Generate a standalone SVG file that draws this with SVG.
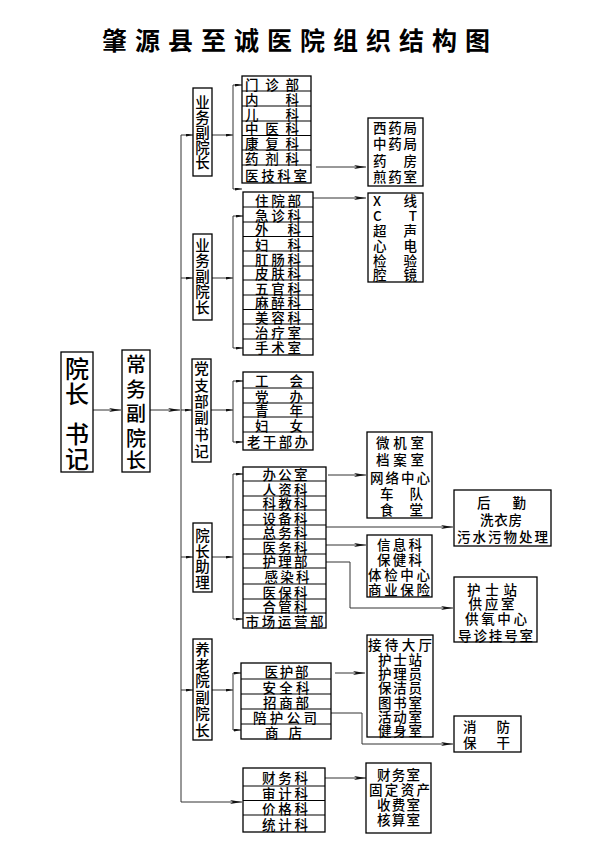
<svg xmlns="http://www.w3.org/2000/svg" width="600" height="849" viewBox="0 0 600 849">
<style>
.b{fill:#fff;stroke:#000;stroke-width:1.3}
.r{stroke:#000;stroke-width:1.2}
text{font-family:"Noto Sans CJK SC","Noto Sans",sans-serif;font-size:13.5px;font-weight:500;fill:#000;dominant-baseline:central;text-anchor:middle}
.v{font-size:14.5px}
.c{stroke:#333;stroke-width:1;fill:none}
.t{font-size:25px;font-weight:bold;text-anchor:start;dominant-baseline:auto}
</style>
<defs>
<marker id="ah" viewBox="0 0 12 4" refX="12" refY="2" markerWidth="12" markerHeight="4" orient="auto" markerUnits="userSpaceOnUse"><path d="M0,0 L12,2 L0,4 L3,2 z" fill="#111"/></marker>
<marker id="as" viewBox="0 0 7 3" refX="7" refY="1.5" markerWidth="7" markerHeight="3" orient="auto" markerUnits="userSpaceOnUse"><path d="M0,0 L7,1.5 L0,3 z" fill="#111"/></marker>
</defs>
<rect width="600" height="849" fill="#fff"/>
<text class="t" x="102" y="50" textLength="388" lengthAdjust="spacing">肇源县至诚医院组织结构图</text>

<g id="connectors">
<path class="c" d="M181,135 V802"/>
<path class="c" d="M181,135 H193" marker-end="url(#as)"/>
<path class="c" d="M181,278 H193" marker-end="url(#as)"/>
<path class="c" d="M181,410 H192" marker-end="url(#as)"/>
<path class="c" d="M181,557 H193" marker-end="url(#as)"/>
<path class="c" d="M181,690 H193" marker-end="url(#as)"/>
<path class="c" d="M181,802 H242" marker-end="url(#ah)"/>
<path class="c" d="M93,410 H121" marker-end="url(#ah)"/>
<path class="c" d="M150,410 H180" marker-end="url(#ah)"/>
<path class="c" d="M212,135 H233" marker-end="url(#as)"/>
<path class="c" d="M212,278 H233" marker-end="url(#as)"/>
<path class="c" d="M211,410 H233" marker-end="url(#as)"/>
<path class="c" d="M212,557 H233" marker-end="url(#as)"/>
<path class="c" d="M212,690 H233" marker-end="url(#as)"/>
<path class="c" d="M233,85 V189"/>
<path class="c" d="M233,85 H242" marker-end="url(#as)"/>
<path class="c" d="M233,189 H242" marker-end="url(#as)"/>
<path class="c" d="M233,216 V348"/>
<path class="c" d="M233,216 H243" marker-end="url(#as)"/>
<path class="c" d="M233,348 H243" marker-end="url(#as)"/>
<path class="c" d="M233,381 V442"/>
<path class="c" d="M233,381 H243" marker-end="url(#as)"/>
<path class="c" d="M233,442 H243" marker-end="url(#as)"/>
<path class="c" d="M233,474 V619"/>
<path class="c" d="M233,474 H243" marker-end="url(#as)"/>
<path class="c" d="M233,619 H243" marker-end="url(#as)"/>
<path class="c" d="M233,673 V730"/>
<path class="c" d="M233,673 H241" marker-end="url(#as)"/>
<path class="c" d="M233,730 H241" marker-end="url(#as)"/>
<path class="c" d="M316,167 H366" marker-end="url(#ah)"/>
<path class="c" d="M312,198 H366" marker-end="url(#ah)"/>
<path class="c" d="M328,475 H366" marker-end="url(#ah)"/>
<path class="c" d="M326,527 H453" marker-end="url(#ah)"/>
<path class="c" d="M326,545 H366" marker-end="url(#ah)"/>
<path class="c" d="M326,562 H350 V608 H453" marker-end="url(#ah)"/>
<path class="c" d="M335,673 H365" marker-end="url(#ah)" stroke="#888"/>
<path class="c" d="M331,713 H362 V744 H453" marker-end="url(#ah)"/>
<path class="c" d="M325,778 H366" marker-end="url(#ah)"/>
</g>

<g id="n-yuanzhang">
<rect class="b" x="61" y="352" width="32" height="120"/>
<text style="font-size:24px"><tspan x="77" y="367">院</tspan><tspan x="77" y="392">长</tspan><tspan x="77" y="432">书</tspan><tspan x="77" y="457">记</tspan></text>
</g>
<g id="n-changwu">
<rect class="b" x="122" y="350" width="28" height="122"/>
<text style="font-size:20px"><tspan x="136" y="363">常</tspan><tspan x="136" y="388">务</tspan><tspan x="136" y="412">副</tspan><tspan x="136" y="437">院</tspan><tspan x="136" y="459">长</tspan></text>
</g>

<g id="n-yewu1">
<rect class="b" x="193" y="88" width="19" height="88"/>
<text class="v"><tspan x="202.5" y="101">业</tspan><tspan x="202.5" y="116">务</tspan><tspan x="202.5" y="131">副</tspan><tspan x="202.5" y="146">院</tspan><tspan x="202.5" y="161">长</tspan></text>
</g>
<g id="n-yewu2">
<rect class="b" x="193" y="234" width="19" height="86"/>
<text class="v"><tspan x="202.5" y="244">业</tspan><tspan x="202.5" y="259">务</tspan><tspan x="202.5" y="274.5">副</tspan><tspan x="202.5" y="290">院</tspan><tspan x="202.5" y="305.5">长</tspan></text>
</g>
<g id="n-dangzhi">
<rect class="b" x="192" y="359" width="19" height="103"/>
<text class="v"><tspan x="201.5" y="367">党</tspan><tspan x="201.5" y="383.5">支</tspan><tspan x="201.5" y="400">部</tspan><tspan x="201.5" y="416">副</tspan><tspan x="201.5" y="433">书</tspan><tspan x="201.5" y="450">记</tspan></text>
</g>
<g id="n-zhuli">
<rect class="b" x="193" y="523" width="19" height="69"/>
<text class="v"><tspan x="202.5" y="533.5">院</tspan><tspan x="202.5" y="549.5">长</tspan><tspan x="202.5" y="565">助</tspan><tspan x="202.5" y="581">理</tspan></text>
</g>
<g id="n-yanglao">
<rect class="b" x="193" y="639" width="19" height="101"/>
<text class="v"><tspan x="202.5" y="648">养</tspan><tspan x="202.5" y="663.5">老</tspan><tspan x="202.5" y="679">院</tspan><tspan x="202.5" y="695.5">副</tspan><tspan x="202.5" y="712">院</tspan><tspan x="202.5" y="729">长</tspan></text>
</g>

<g id="n-list1">
<rect class="b" x="242" y="76" width="69" height="107"/>
<path class="r" d="M242,91H311M242,106H311M242,121H311M242,135.5H311M242,150H311M242,165H311"/>
<text x="272" y="83.5" textLength="54" lengthAdjust="spacing">门诊部</text>
<text x="272" y="98.5" textLength="54" lengthAdjust="spacing">内 科</text>
<text x="272" y="113.5" textLength="54" lengthAdjust="spacing">儿 科</text>
<text x="272" y="128.3" textLength="54" lengthAdjust="spacing">中医科</text>
<text x="272" y="142.8" textLength="54" lengthAdjust="spacing">康复科</text>
<text x="272" y="157.5" textLength="54" lengthAdjust="spacing">药剂科</text>
<text x="276" y="174.5" textLength="62" lengthAdjust="spacing">医技科室</text>
</g>

<g id="n-list2">
<rect class="b" x="243" y="192" width="70" height="163"/>
<path class="r" d="M243,207H313M243,222H313M243,236.5H313M243,251H313M243,266H313M243,280H313M243,295H313M243,309.5H313M243,324H313M243,339H313"/>
<text x="278" y="199.5" textLength="46" lengthAdjust="spacing">住院部</text>
<text x="278" y="214.5" textLength="46" lengthAdjust="spacing">急诊科</text>
<text x="278" y="229.3" textLength="46" lengthAdjust="spacing">外 科</text>
<text x="278" y="243.8" textLength="46" lengthAdjust="spacing">妇 科</text>
<text x="278" y="258.5" textLength="46" lengthAdjust="spacing">肛肠科</text>
<text x="278" y="273" textLength="46" lengthAdjust="spacing">皮肤科</text>
<text x="278" y="287.5" textLength="46" lengthAdjust="spacing">五官科</text>
<text x="278" y="302.3" textLength="46" lengthAdjust="spacing">麻醉科</text>
<text x="278" y="316.8" textLength="46" lengthAdjust="spacing">美容科</text>
<text x="278" y="331.5" textLength="46" lengthAdjust="spacing">治疗室</text>
<text x="278" y="347" textLength="46" lengthAdjust="spacing">手术室</text>
</g>

<g id="n-list3">
<rect class="b" x="243" y="372" width="70" height="78"/>
<path class="r" d="M243,388H313M243,403H313M243,417H313M243,432H313"/>
<text x="279" y="380" textLength="48" lengthAdjust="spacing">工 会</text>
<text x="279" y="395.5" textLength="48" lengthAdjust="spacing">党 办</text>
<text x="279" y="410" textLength="48" lengthAdjust="spacing">青 年</text>
<text x="279" y="424.5" textLength="48" lengthAdjust="spacing">妇 女</text>
<text x="277.5" y="441" textLength="61" lengthAdjust="spacing">老干部办</text>
</g>

<g id="n-list4">
<rect class="b" x="243" y="467" width="83" height="161"/>
<path class="r" d="M243,481H326M243,496H326M243,510H326M243,525H326M243,539H326M243,554H326M243,568H326M243,584H326M243,599H326M243,613H326"/>
<text x="285" y="474" textLength="45" lengthAdjust="spacing">办公室</text>
<text x="285" y="488.5" textLength="45" lengthAdjust="spacing">人资科</text>
<text x="285" y="503" textLength="45" lengthAdjust="spacing">科教科</text>
<text x="285" y="517.5" textLength="45" lengthAdjust="spacing">设备科</text>
<text x="285" y="532" textLength="45" lengthAdjust="spacing">总务科</text>
<text x="285" y="546.5" textLength="45" lengthAdjust="spacing">医务科</text>
<text x="285" y="561" textLength="45" lengthAdjust="spacing">护理部</text>
<text x="287" y="576" textLength="45" lengthAdjust="spacing">感染科</text>
<text x="285" y="591.5" textLength="45" lengthAdjust="spacing">医保科</text>
<text x="285" y="606" textLength="45" lengthAdjust="spacing">合管科</text>
<text x="284.5" y="620.5" textLength="78" lengthAdjust="spacing">市场运营部</text>
</g>

<g id="n-list5">
<rect class="b" x="241" y="663" width="90" height="76"/>
<path class="r" d="M241,679H331M241,694H331M241,709H331M241,724H331"/>
<text x="286.5" y="671" textLength="44" lengthAdjust="spacing">医护部</text>
<text x="286" y="686.5" textLength="47" lengthAdjust="spacing">安全科</text>
<text x="286" y="701.5" textLength="46" lengthAdjust="spacing">招商部</text>
<text x="285" y="716.5" textLength="64" lengthAdjust="spacing">陪护公司</text>
<text x="283.5" y="731.5" textLength="37" lengthAdjust="spacing">商 店</text>
</g>

<g id="n-list6">
<rect class="b" x="243" y="768" width="82" height="64"/>
<path class="r" d="M243,786H325M243,800.5H325M243,815H325"/>
<text x="285" y="777" textLength="46" lengthAdjust="spacing">财务科</text>
<text x="285" y="793.3" textLength="46" lengthAdjust="spacing">审计科</text>
<text x="285" y="807.8" textLength="46" lengthAdjust="spacing">价格科</text>
<text x="285" y="823.5" textLength="46" lengthAdjust="spacing">统计科</text>
</g>

<g id="n-xiyao">
<rect class="b" x="368" y="118" width="55" height="68"/>
<text x="395" y="126.5" textLength="44" lengthAdjust="spacing">西药局</text>
<text x="395" y="143" textLength="44" lengthAdjust="spacing">中药局</text>
<text x="395" y="159.5" textLength="44" lengthAdjust="spacing">药 房</text>
<text x="395" y="176" textLength="44" lengthAdjust="spacing">煎药室</text>
</g>
<g id="n-xxian">
<rect class="b" x="368" y="193" width="55" height="89"/>
<text x="395" y="200" textLength="44" lengthAdjust="spacing">X 线</text>
<text x="395" y="215" textLength="44" lengthAdjust="spacing">C T</text>
<text x="395" y="230" textLength="44" lengthAdjust="spacing">超 声</text>
<text x="395" y="245" textLength="44" lengthAdjust="spacing">心 电</text>
<text x="395" y="259.5" textLength="44" lengthAdjust="spacing">检 验</text>
<text x="395" y="274" textLength="44" lengthAdjust="spacing">腔 镜</text>
</g>
<g id="n-weiji">
<rect class="b" x="367" y="432" width="65" height="86"/>
<text x="400" y="442" textLength="48" lengthAdjust="spacing">微机室</text>
<text x="400" y="459" textLength="48" lengthAdjust="spacing">档案室</text>
<text x="400" y="476.5" textLength="60" lengthAdjust="spacing">网络中心</text>
<text x="401.5" y="493" textLength="43" lengthAdjust="spacing">车 队</text>
<text x="401.5" y="509" textLength="43" lengthAdjust="spacing">食 堂</text>
</g>
<g id="n-houqin">
<rect class="b" x="454" y="490" width="97" height="56"/>
<text x="501.5" y="502" textLength="49" lengthAdjust="spacing">后 勤</text>
<text x="501" y="519" textLength="42" lengthAdjust="spacing">洗衣房</text>
<text x="502.5" y="536" textLength="91" lengthAdjust="spacing">污水污物处理</text>
</g>
<g id="n-xinxi">
<rect class="b" x="367" y="535" width="65" height="62"/>
<text x="399.5" y="544" textLength="45" lengthAdjust="spacing">信息科</text>
<text x="399.5" y="559" textLength="45" lengthAdjust="spacing">保健科</text>
<text x="399" y="574" textLength="62" lengthAdjust="spacing">体检中心</text>
<text x="399" y="589" textLength="62" lengthAdjust="spacing">商业保险</text>
</g>
<g id="n-hushi">
<rect class="b" x="454" y="577" width="83" height="65"/>
<text x="492" y="588.5" textLength="50" lengthAdjust="spacing">护士站</text>
<text x="491.5" y="602.5" textLength="46" lengthAdjust="spacing">供应室</text>
<text x="496" y="617.5" textLength="62" lengthAdjust="spacing">供氧中心</text>
<text x="495.5" y="634.5" textLength="75" lengthAdjust="spacing">导诊挂号室</text>
</g>
<g id="n-jiedai">
<rect class="b" x="367" y="635" width="66" height="102"/>
<text x="400" y="644" textLength="64" lengthAdjust="spacing">接待大厅</text>
<text x="400" y="658.5" textLength="44" lengthAdjust="spacing">护士站</text>
<text x="400" y="673" textLength="44" lengthAdjust="spacing">护理员</text>
<text x="400" y="687" textLength="44" lengthAdjust="spacing">保洁员</text>
<text x="400" y="701.5" textLength="44" lengthAdjust="spacing">图书室</text>
<text x="400" y="716" textLength="44" lengthAdjust="spacing">活动室</text>
<text x="400" y="730" textLength="44" lengthAdjust="spacing">健身室</text>
</g>
<g id="n-xiaofang">
<rect class="b" x="454" y="716" width="67" height="36"/>
<text x="486.5" y="725.5" textLength="47" lengthAdjust="spacing">消 防</text>
<text x="486.5" y="741.5" textLength="47" lengthAdjust="spacing">保 干</text>
</g>
<g id="n-caiwu">
<rect class="b" x="366" y="763" width="65" height="70"/>
<text x="398.5" y="774" textLength="43" lengthAdjust="spacing">财务室</text>
<text x="399.5" y="789" textLength="61" lengthAdjust="spacing">固定资产</text>
<text x="398.5" y="804" textLength="43" lengthAdjust="spacing">收费室</text>
<text x="398.5" y="819" textLength="43" lengthAdjust="spacing">核算室</text>
</g>
</svg>
